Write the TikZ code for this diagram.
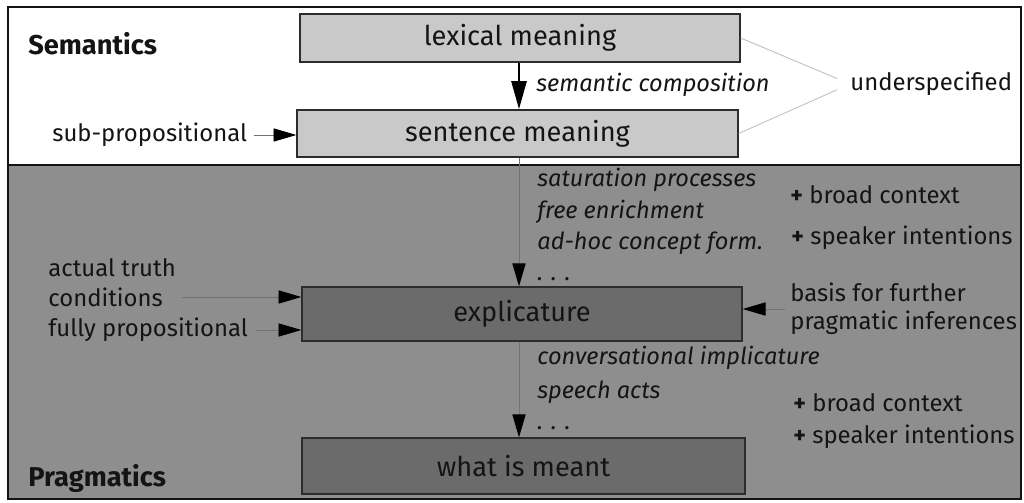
\documentclass[tikz,border=0pt]{standalone}
\usepackage{fontspec}
\setmainfont{Fira Sans}
\usetikzlibrary{arrows.meta}

\definecolor{semfill}{HTML}{FFFFFF}
\definecolor{pragfill}{HTML}{8E8E8E}
\definecolor{lightbox}{HTML}{C9C9C9}
\definecolor{darkbox}{HTML}{6B6B6B}
\definecolor{ink}{HTML}{141414}

\tikzset{
  lbl/.style={anchor=west, inner sep=0pt, text=ink, font=\fontsize{13.6}{16}\selectfont},
  proc/.style={lbl, font=\fontsize{13.4}{16}\selectfont\itshape},
  area/.style={lbl, font=\fontsize{15.5}{18}\selectfont\bfseries},
  levelbox/.style={draw=ink!90, line width=0.8pt, inner sep=0pt, text=ink,
    font=\fontsize{15.5}{18}\selectfont},
  feed/.style={draw=ink!60, line width=0.5pt, -{Triangle[length=13pt,width=7.5pt,color=black]}},
  link/.style={draw=black!25, line width=0.5pt}
}

\begin{document}
\begin{tikzpicture}[x=0.02cm, y=-0.02cm]
		%%%%% START %%%%%
		\useasboundingbox (0, 0) rectangle (1024, 503);
		
		% the two areas
		\draw[fill=semfill, draw=ink, line width=0.8pt] (8, 7) rectangle (1021, 165);
		\draw[fill=pragfill, draw=ink, line width=0.8pt] (8, 165) rectangle (1021, 499);
		\node[area] (sem) at (28, 44) {Semantics};
		\node[area] (prag) at (28, 478) {Pragmatics};
		
		% the levels
		\node[levelbox, fill=lightbox, minimum width=8.8cm, minimum height=0.96cm] (lex) at (520, 38) {lexical meaning};
		\node[levelbox, fill=lightbox, minimum width=8.82cm, minimum height=0.94cm] (sent) at (517.5, 133.5) {sentence meaning};
		\node[levelbox, fill=darkbox, minimum width=8.8cm, minimum height=1.08cm] (expl) at (522, 314) {explicature};
		\node[levelbox, fill=darkbox, minimum width=8.86cm, minimum height=1.12cm] (meant) at (523.5, 466) {what is meant};
		
		% semantics
		\draw[line width=1.6pt, -{Triangle[length=16pt,width=8.5pt]}] (lex.south -| 519, 0) -- (sent.north -| 519, 0);
		\node[proc] (comp) at (536, 85) {semantic composition};
		\node[lbl] (under) at (850, 84) {underspecified};
		\draw[link, shorten >=0.28cm] (lex.east) -- (under.west);
		\draw[link, shorten >=0.28cm] (sent.east) -- (under.west);
		\node[lbl] (subprop) at (52, 135) {sub-propositional};
		\draw[feed, shorten <=4pt] (subprop.east) -- (subprop.east -| sent.west);
		
		% sentence meaning to explicature
		\draw[feed] (sent.south -| 519, 0) -- (expl.north -| 519, 0);
		\node[proc] (sat) at (537, 180) {saturation processes};
		\node[proc] (free) at (537, 212) {free enrichment};
		\node[proc] (adhoc) at (537, 243) {ad-hoc concept form.};
		\node[proc] (dotsA) at (537, 279) {. . .};
		\node[lbl] (ctxA) at (790, 195) {\textbf{+} broad context};
		\node[lbl] (intA) at (791, 238) {\textbf{+} speaker intentions};
		
		\node[lbl] (truth) at (48, 268) {actual truth};
		\node[lbl] (cond) at (48, 297) {conditions};
		\node[lbl] (full) at (48, 330) {fully propositional};
		\draw[feed, shorten <=11pt] (cond.east) -- (cond.east -| expl.west);
		\draw[feed, shorten <=4.5pt] (full.east) -- (full.east -| expl.west);
		\node[lbl, align=left] (basis) at (790, 309) {basis for further\\[0pt]pragmatic inferences};
		\draw[feed, shorten <=3pt] (basis.west) -- (basis.west -| expl.east);
		
		% explicature to what is meant
		\draw[feed] (expl.south -| 519, 0) -- (meant.north -| 519, 0);
		\node[proc] (conv) at (537, 358) {conversational implicature};
		\node[proc] (acts) at (537, 392) {speech acts};
		\node[proc] (dotsB) at (537, 428) {. . .};
		\node[lbl] (ctxB) at (793, 403) {\textbf{+} broad context};
		\node[lbl] (intB) at (793, 437) {\textbf{+} speaker intentions};
		%%%%% END %%%%%
	\end{tikzpicture}
\end{document}
